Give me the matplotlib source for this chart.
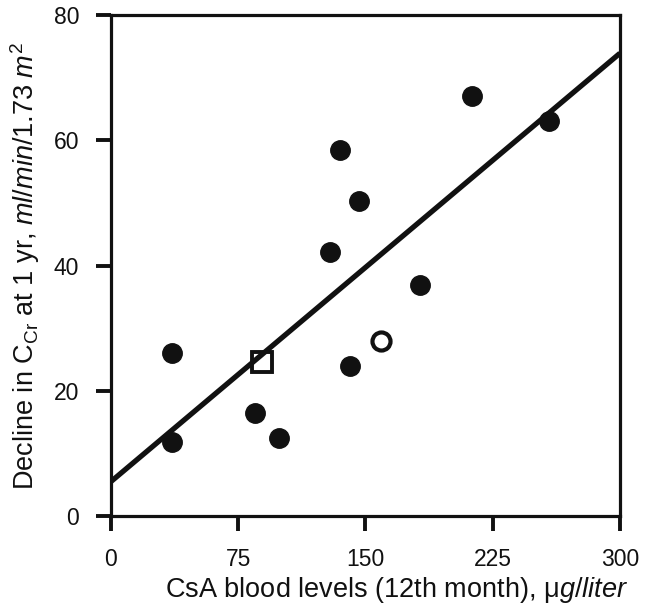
import matplotlib.pyplot as plt
import numpy as np

plt.rcParams['font.family'] = ['Liberation Sans', 'DejaVu Sans']
plt.rcParams['mathtext.fontset'] = 'custom'
plt.rcParams['mathtext.rm'] = 'Liberation Sans'
plt.rcParams['mathtext.it'] = 'Liberation Sans:italic'

# filled circles
csa_filled = [36, 36, 85, 99, 129, 135, 141, 146, 182, 213, 258]
decline_filled = [26.1, 11.8, 16.5, 12.5, 42.2, 58.4, 23.9, 50.3, 36.9, 67.1, 63.0]
# open square and open circle
csa_square = [89]
decline_square = [24.6]
csa_open = [159]
decline_open = [28.0]

# regression line
intercept = 5.5
slope = 0.228

x_ticks = [0, 75, 150, 225, 300]
y_ticks = [0, 20, 40, 60, 80]

fig = plt.figure(figsize=(6.54, 6.08), dpi=100)
ax = fig.add_axes([0.1697, 0.1513, 0.7783, 0.824])

xs = np.array([0, 300])
ax.plot(xs, intercept + slope * xs, color='#111111', lw=3.8, solid_capstyle='butt', zorder=2)

ax.plot(csa_filled, decline_filled, 'o', ms=14, color='#111111', mec='#111111', zorder=3)
# the fit line runs over the square in the original
ax.plot(csa_square, decline_square, 's', ms=14, mfc='white', mec='#111111', mew=2.8, zorder=1.5)
ax.plot(csa_open, decline_open, 'o', ms=13, mfc='white', mec='#111111', mew=3.0, zorder=3)

ax.set_xlim(0, 300)
ax.set_ylim(0, 80)
ax.set_xticks(x_ticks)
ax.set_yticks(y_ticks)

for s in ax.spines.values():
    s.set_linewidth(2.3)
    s.set_color('#111111')
ax.tick_params(direction='out', length=11, width=2.8, color='#111111',
               labelsize=16.5, labelcolor='#111111', pad=12)

ax.set_xlabel('CsA blood levels (12th month), μ$\\mathit{g/liter}$', fontsize=19.5,
              color='#111111')
ax.xaxis.set_label_coords(0.562, -0.118)
ax.set_ylabel('Decline in C$_{\\mathrm{Cr}}$ at 1 yr, $\\mathit{ml/min/1.73\\ m^2}$', fontsize=19.5,
              color='#111111', labelpad=8)

fig.savefig('out.png', dpi=100)
